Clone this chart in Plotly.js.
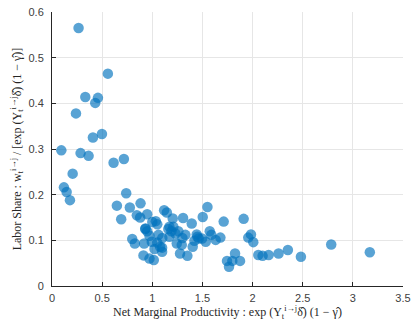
<!DOCTYPE html>
<html><head><meta charset="utf-8">
<script src="https://cdn.plot.ly/plotly-3.0.1.min.js"></script>
<style>html,body{margin:0;padding:0;background:#fff;}#chart{width:413px;height:324px;}</style>
</head><body><div id="chart"></div>
<script>
const netMarginalProductivity = [
0.265,0.557,0.332,0.458,0.431,0.239,0.408,0.498,0.093,0.285,0.365,0.614,0.717,0.206,0.119,0.146,0.179,0.740,0.647,0.690,
0.776,0.883,0.846,0.879,0.949,0.800,0.826,0.919,0.932,0.949,0.912,0.972,1.015,1.035,0.972,0.995,1.022,1.062,1.078,1.098,
1.118,1.145,1.098,1.204,1.171,1.191,1.231,1.171,1.244,1.277,1.307,1.294,1.330,1.350,1.393,1.403,1.443,1.463,1.420,1.503,
1.550,1.533,1.496,1.573,1.589,1.632,1.679,1.712,1.745,1.765,1.798,1.825,1.875,1.911,1.957,1.984,2.007,2.057,2.100,2.160,
2.259,2.352,2.482,2.784,3.169,
1.05,1.16,1.21,1.26,1.10,1.05,1.30,1.45,0.93,1.00
];
const laborShare = [
0.565,0.465,0.414,0.412,0.401,0.378,0.325,0.333,0.297,0.291,0.285,0.270,0.278,0.246,0.216,0.206,0.188,0.203,0.176,0.146,
0.172,0.181,0.155,0.150,0.157,0.103,0.093,0.093,0.126,0.120,0.067,0.060,0.057,0.142,0.110,0.097,0.081,0.112,0.086,0.075,
0.166,0.161,0.084,0.148,0.130,0.120,0.115,0.108,0.093,0.071,0.149,0.090,0.112,0.066,0.137,0.086,0.113,0.104,0.099,0.151,
0.173,0.097,0.104,0.120,0.112,0.101,0.106,0.141,0.055,0.042,0.055,0.071,0.055,0.147,0.106,0.113,0.096,0.068,0.066,0.068,
0.071,0.079,0.064,0.091,0.074,
0.135,0.125,0.130,0.120,0.105,0.095,0.105,0.108,0.125,0.140
];
const xTicks = [0,0.5,1,1.5,2,2.5,3,3.5];
const xTickLabels = ['0','0.5','1','1.5','2','2.5','3','3.5'];
const yTicks = [0,0.1,0.2,0.3,0.4,0.5,0.6];
const yTickLabels = ['0','0.1','0.2','0.3','0.4','0.5','0.6'];

const trace = {
  x: netMarginalProductivity, y: laborShare, type: 'scatter', mode: 'markers',
  marker: {size: 10.5, color: '#0072BD', opacity: 0.65, line: {width: 0}},
  hoverinfo: 'skip'
};
const axisCommon = {
  showgrid: true, gridcolor: '#e6e6e6', gridwidth: 1, zeroline: false,
  showline: true, linecolor: '#262626', linewidth: 1,
  ticks: 'inside', ticklen: 4, tickcolor: '#262626',
  tickfont: {family: 'Liberation Sans, Arial, sans-serif', size: 11, color: '#404040'},
  tickmode: 'array', mirror: false
};
const layout = {
  width: 413, height: 324,
  margin: {l: 52, r: 10, t: 12, b: 38},
  paper_bgcolor: '#fff', plot_bgcolor: '#fff',
  showlegend: false,
  xaxis: Object.assign({}, axisCommon, {
    range: [0, 3.5], tickvals: xTicks, ticktext: xTickLabels, ticklabelstandoff: 2,
    title: {text: 'Net Marginal Productivity : exp (Y<sub>t</sub><sup>i→j</sup>δ̂) (1 − γ̂)', standoff: 2,
      font: {family: 'Liberation Serif, DejaVu Serif, serif', size: 12, color: '#262626'}}
  }),
  yaxis: Object.assign({}, axisCommon, {
    range: [0, 0.6], tickvals: yTicks, ticktext: yTickLabels, ticklabelstandoff: 5,
    title: {text: 'Labor Share : w<sub>t</sub><sup>i→j</sup> / [exp (Y<sub>t</sub><sup>i→j</sup>δ̂) (1 − γ̂)]', standoff: 4,
      font: {family: 'Liberation Serif, DejaVu Serif, serif', size: 12, color: '#262626'}}
  })
};
Plotly.newPlot('chart', [trace], layout, {staticPlot: true, displayModeBar: false});
</script></body></html>
